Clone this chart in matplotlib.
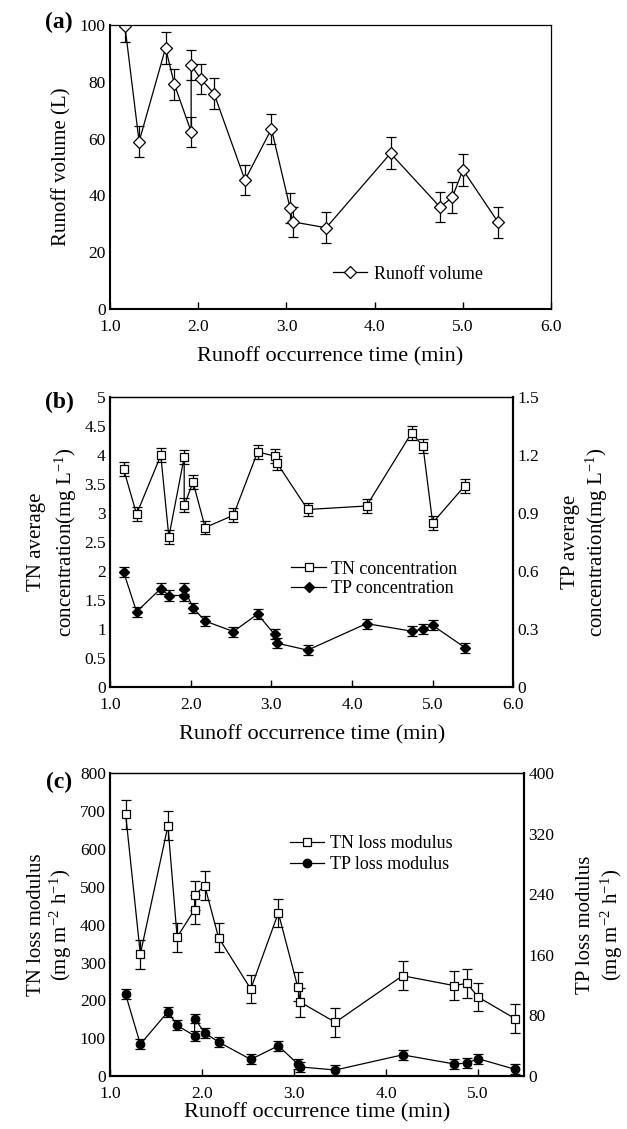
import matplotlib
matplotlib.use("Agg")
import matplotlib.pyplot as plt
from matplotlib.ticker import FormatStrFormatter

plt.rcParams['font.family'] = ['Liberation Serif', 'DejaVu Serif']
plt.rcParams['mathtext.fontset'] = 'stix'

# runoff occurrence times (min), shared by all three panels
times = [1.17, 1.33, 1.63, 1.73, 1.92, 1.92, 2.03, 2.18, 2.53, 2.83,
         3.04, 3.07, 3.45, 4.18, 4.74, 4.88, 5.00, 5.40]

# (a) runoff volume (L)
runoff_vol = [99.5, 58.9, 91.9, 79.1, 62.4, 85.8, 81.0, 75.8, 45.4, 63.4,
              35.7, 30.7, 28.6, 54.8, 35.9, 39.3, 49.0, 30.5]
runoff_err = [5.5, 5.4, 5.5, 5.5, 5.3, 5.3, 5.3, 5.5, 5.3, 5.4,
              5.3, 5.3, 5.5, 5.6, 5.4, 5.4, 5.6, 5.5]

# (b) average concentrations (mg/L)
tn_conc = [3.75, 2.98, 3.99, 2.59, 3.96, 3.13, 3.53, 2.75, 2.96, 4.05,
           3.98, 3.86, 3.06, 3.12, 4.38, 4.15, 2.83, 3.47]
tn_conc_err = [0.12] * 18
tp_conc = [0.594, 0.39, 0.51, 0.474, 0.474, 0.51, 0.41, 0.342, 0.288, 0.378,
           0.273, 0.228, 0.192, 0.329, 0.29, 0.30, 0.32, 0.205]
tp_conc_err = [0.026] * 18

# (c) loss modulus (mg m-2 h-1)
tn_loss = [692, 322, 661, 367, 440, 478, 503, 366, 230, 431,
           236, 195, 142, 265, 239, 245, 209, 152]
tn_loss_err = [38] * 18
tp_loss = [108, 42, 85, 67, 53, 76, 57, 45, 22, 40,
           16, 12, 8, 28, 16, 17, 23, 9]
tp_loss_err = [6.5] * 18

FS_TICK = 12.5
FS_LAB = 15
FS_XLAB = 16
FS_LEG = 13

fig = plt.figure(figsize=(6.27, 11.29), dpi=100)


def style_axis(ax, thick=('left', 'bottom')):
    for side in ['left', 'right', 'top', 'bottom']:
        ax.spines[side].set_linewidth(1.5 if side in thick else 0.9)
    ax.tick_params(axis='x', direction='in', length=5, width=1.0,
                   labelsize=FS_TICK, pad=7)
    ax.tick_params(axis='y', length=0, labelsize=FS_TICK, pad=3)


eb_kw = dict(color='black', lw=0.9, elinewidth=0.9, capsize=3.5, capthick=0.9)

# ---------------- (a) ----------------
ax_a = fig.add_axes([0.1754, 0.7263, 0.7036, 0.2516])
ax_a.errorbar(times, runoff_vol, yerr=runoff_err, marker='D', ms=6,
              mfc='white', mec='black', mew=0.9, label='Runoff volume', **eb_kw)
ax_a.set_xlim(1.0, 6.0)
ax_a.set_ylim(0, 100)
ax_a.set_xticks([1, 2, 3, 4, 5, 6])
ax_a.set_yticks([0, 20, 40, 60, 80, 100])
ax_a.xaxis.set_major_formatter(FormatStrFormatter('%.1f'))
style_axis(ax_a)
ax_a.set_xlabel('Runoff occurrence time (min)', fontsize=FS_XLAB, labelpad=9)
ax_a.set_ylabel('Runoff volume (L)', fontsize=FS_LAB, labelpad=6)
h, l = ax_a.get_legend_handles_labels()
ax_a.legend([h[0][0]], l, loc='center left', bbox_to_anchor=(0.505, 0.123),
            frameon=False, fontsize=FS_LEG, handlelength=1.9, handletextpad=0.4,
            borderpad=0, borderaxespad=0)
fig.text(0.094, 1 - 22 / 1129, '(a)', fontsize=17, fontweight='bold',
         ha='center', va='center')

# ---------------- (b) ----------------
ax_b = fig.add_axes([0.1754, 0.3912, 0.6433, 0.2574])
ax_b2 = ax_b.twinx()
l1 = ax_b.errorbar(times, tn_conc, yerr=tn_conc_err, marker='s', ms=6,
                   mfc='white', mec='black', mew=0.9, **eb_kw)
l2 = ax_b2.errorbar(times, tp_conc, yerr=tp_conc_err, marker='D', ms=5,
                    mfc='black', mec='black', **eb_kw)
ax_b.set_xlim(1.0, 6.0)
ax_b.set_ylim(0, 5)
ax_b2.set_ylim(0, 1.5)
ax_b.set_xticks([1, 2, 3, 4, 5, 6])
ax_b.set_yticks([0, 0.5, 1, 1.5, 2, 2.5, 3, 3.5, 4, 4.5, 5])
ax_b.set_yticklabels(['0', '0.5', '1', '1.5', '2', '2.5', '3', '3.5', '4', '4.5', '5'])
ax_b2.set_yticks([0, 0.3, 0.6, 0.9, 1.2, 1.5])
ax_b2.set_yticklabels(['0', '0.3', '0.6', '0.9', '1.2', '1.5'])
ax_b.xaxis.set_major_formatter(FormatStrFormatter('%.1f'))
style_axis(ax_b)
style_axis(ax_b2, thick=('left', 'bottom', 'right'))
ax_b.spines['right'].set_linewidth(1.5)
ax_b.set_xlabel('Runoff occurrence time (min)', fontsize=FS_XLAB, labelpad=9)
ax_b.set_ylabel('TN average\nconcentration(mg L$^{\\mathregular{-1}}$)',
                fontsize=FS_LAB, labelpad=4, linespacing=1.3)
ax_b2.set_ylabel('TP average\nconcentration(mg L$^{\\mathregular{-1}}$)',
                 fontsize=FS_LAB, labelpad=16, linespacing=1.15)
ax_b.legend([l1[0], l2[0]], ['TN concentration', 'TP concentration'],
            loc='center left', bbox_to_anchor=(0.45, 0.373), frameon=False,
            fontsize=FS_LEG, handlelength=1.9, handletextpad=0.3,
            labelspacing=0.15, borderpad=0, borderaxespad=0)
fig.text(0.094, 1 - 402 / 1129, '(b)', fontsize=17, fontweight='bold',
         ha='center', va='center')

# ---------------- (c) ----------------
ax_c = fig.add_axes([0.1754, 0.0469, 0.6603, 0.2682])
ax_c2 = ax_c.twinx()
l3 = ax_c.errorbar(times, tn_loss, yerr=tn_loss_err, marker='s', ms=5.5,
                   mfc='white', mec='black', mew=0.9, **eb_kw)
l4 = ax_c2.errorbar(times, tp_loss, yerr=tp_loss_err, marker='o', ms=6,
                    mfc='black', mec='black', **eb_kw)
ax_c.set_xlim(1.0, 5.5)
ax_c.set_ylim(0, 800)
ax_c2.set_ylim(0, 400)
ax_c.set_xticks([1, 2, 3, 4, 5])
ax_c.set_yticks(range(0, 801, 100))
ax_c2.set_yticks(range(0, 401, 80))
ax_c.xaxis.set_major_formatter(FormatStrFormatter('%.1f'))
style_axis(ax_c)
style_axis(ax_c2, thick=('left', 'bottom', 'right'))
ax_c.spines['right'].set_linewidth(1.5)
ax_c.set_xlabel('Runoff occurrence time (min)', fontsize=FS_XLAB, labelpad=1)
ax_c.set_ylabel('TN loss modulus\n(mg m$^{\\mathregular{-2}}$ h$^{\\mathregular{-1}}$)',
                fontsize=FS_LAB, labelpad=4, linespacing=1.1)
ax_c2.set_ylabel('TP loss modulus\n(mg m$^{\\mathregular{-2}}$ h$^{\\mathregular{-1}}$)',
                 fontsize=FS_LAB, labelpad=16, linespacing=1.15)
ax_c.legend([l3[0], l4[0]], ['TN loss modulus', 'TP loss modulus'],
            loc='center left', bbox_to_anchor=(0.435, 0.733), frameon=False,
            fontsize=FS_LEG, handlelength=1.9, handletextpad=0.3,
            labelspacing=0.25, borderpad=0, borderaxespad=0)
fig.text(0.094, 1 - 782 / 1129, '(c)', fontsize=17, fontweight='bold',
         ha='center', va='center')

fig.savefig('out.png', dpi=100)
